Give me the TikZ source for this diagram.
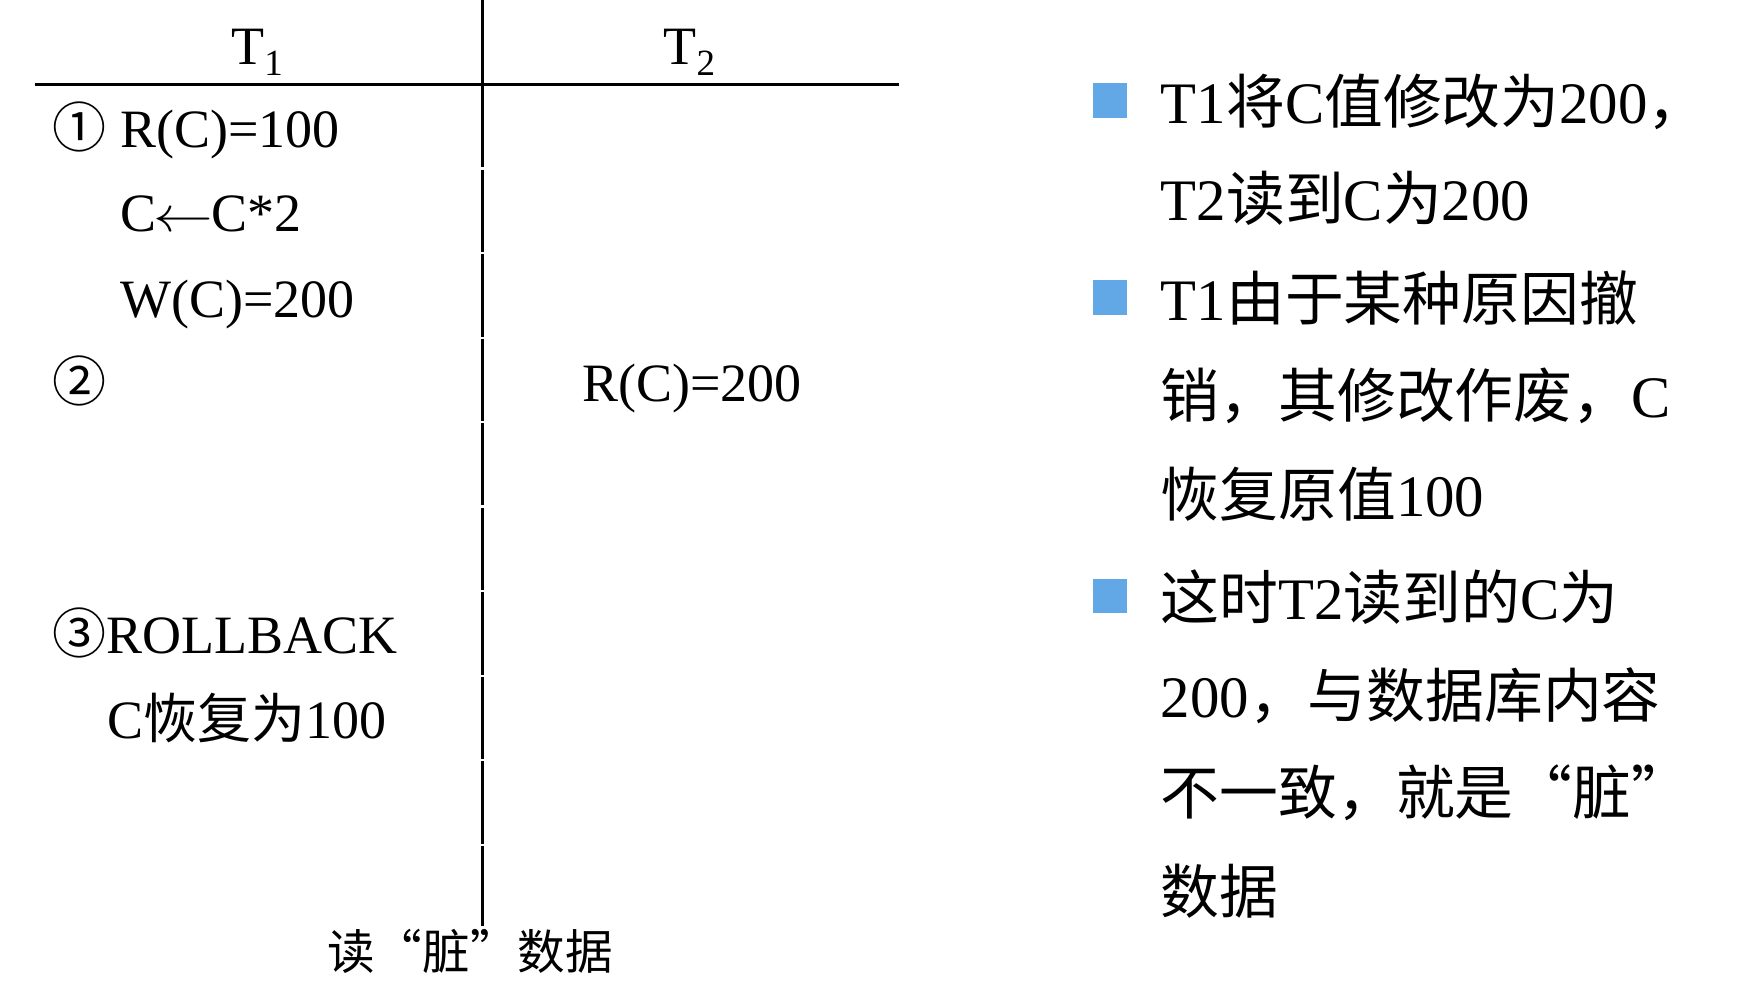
\documentclass[tikz,border=0pt]{standalone}
\usepackage{fontspec}
\setmainfont{Liberation Serif}
\newfontfamily\cjk{Noto Sans CJK SC}
\newcommand\zh[1]{{\cjk #1}}
\newcommand\zlq{\makebox[1em][r]{“}}
\newcommand\zrq{\makebox[1em][l]{”}}
\newcommand\tsub[1]{\raisebox{-5.5pt}{\fontsize{18.5}{18.5}\selectfont #1}}
\newcommand\larr{\kern-0.04em\scalebox{1.2}[1]{$\leftarrow$}\kern-0.04em}
\definecolor{bulblue}{RGB}{99,168,230}
\tikzset{
  hd/.style={anchor=base, inner sep=0pt, font=\fontsize{27}{27}\selectfont},
  lt/.style={anchor=base west, inner sep=0pt, font=\fontsize{27}{27}\selectfont},
  bt/.style={anchor=base west, inner sep=0pt, font=\fontsize{23.8}{23.8}\selectfont},
  rt/.style={anchor=base west, inner sep=0pt, font=\fontsize{29.4}{29.4}\selectfont},
  bul/.style={fill=bulblue, minimum size=17.2pt, inner sep=0pt},
  rule/.style={line width=1.4pt, black}
}
\begin{document}
\begin{tikzpicture}[x=0.5542pt, y=-0.5542pt]
\useasboundingbox (0,0) rectangle (1568,902);
% table rules
\draw[rule] (32,76) -- (811,76);
\draw[rule] (435,0) -- (435,151);
\foreach \a/\b in {153/227, 229/304, 306/380, 382/456, 458/532, 534/609, 611/685, 687/761, 763/835}
  \draw[rule] (435,\a) -- (435,\b);
% headers
\node[hd] (t1) at (232,58) {T\tsub{1}};
\node[hd] (t2) at (622,58) {T\tsub{2}};
% T1 column
\node[lt] (c1) at (47,133) {\zh{①}};
\node[lt] (r1) at (108,133) {R(C)=100};
\node[lt] (r2) at (108,209) {C\larr C*2};
\node[lt] (r3) at (108,286) {W(C)=200};
\node[lt] (c2) at (47,362) {\zh{②}};
\node[lt] (r4) at (525,362) {R(C)=200};
\node[lt] (r5) at (47,590) {\zh{③}ROLLBACK};
\node[lt] (r6) at (97,666) {C\zh{恢复为}100};
\node[bt] (cap) at (295,875) {\zh{读\zlq 脏\zrq 数据}};
% right bullets
\node[bul] (b1) at (1001.5,90.5) {};
\node[bul] (b2) at (1001.5,268.5) {};
\node[bul] (b3) at (1001.5,537.5) {};
\node[rt] (l1) at (1047,111) {T1\zh{将}C\zh{值修改为}200\zh{，}};
\node[rt] (l2) at (1047,199) {T2\zh{读到}C\zh{为}200};
\node[rt] (l3) at (1047,289) {T1\zh{由于某种原因撤}};
\node[rt] (l4) at (1047,377) {\zh{销，其修改作废，}C};
\node[rt] (l5) at (1047,466) {\zh{恢复原值}100};
\node[rt] (l6) at (1047,559) {\zh{这时}T2\zh{读到的}C\zh{为}};
\node[rt] (l7) at (1047,647) {200\zh{，与数据库内容}};
\node[rt] (l8) at (1047,735) {\zh{不一致，就是\zlq 脏\zrq}};
\node[rt] (l9) at (1047,824) {\zh{数据}};
\end{tikzpicture}
\end{document}
